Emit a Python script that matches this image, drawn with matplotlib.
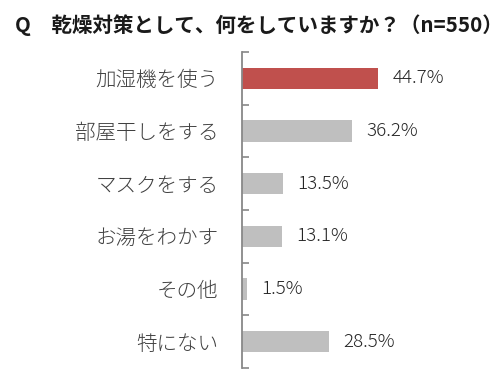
import matplotlib
matplotlib.use("Agg")
import matplotlib.pyplot as plt
import numpy as np

plt.rcParams['font.family'] = ['Noto Sans CJK JP', 'DejaVu Sans']

categories = ["加湿機を使う", "部屋干しをする", "マスクをする", "お湯をわかす", "その他", "特にない"]
values = [44.7, 36.2, 13.5, 13.1, 1.5, 28.5]
labels = ["44.7%", "36.2%", "13.5%", "13.1%", "1.5%", "28.5%"]
colors = ["#C0504D", "#BFBFBF", "#BFBFBF", "#BFBFBF", "#BFBFBF", "#BFBFBF"]
title = "Q\u3000乾燥対策として、何をしていますか？（n=550）"

W, H = 502, 380
fig = plt.figure(figsize=(W/100, H/100), dpi=100)
left_px, right_px, top_px, bot_px = 242, 486, 52, 368
ax = fig.add_axes([left_px/W, 1-bot_px/H, (right_px-left_px)/W, (bot_px-top_px)/H])

y = np.arange(len(categories))
ax.barh(y, values, height=0.4, color=colors)
ax.set_ylim(len(categories)-0.5, -0.5)
ax.set_xlim(0, (right_px-left_px)/3.04)

for yi, v, lab in zip(y, values, labels):
    ax.annotate(lab, (v, yi), xytext=(10.5, 0), textcoords='offset points',
                va='center', ha='left', fontsize=13.5, color='#262626', fontweight='light')

ax.set_yticks(y)
ax.set_yticklabels(categories, fontsize=14.8, color='#404040', fontweight='light')
ax.tick_params(axis='y', which='major', length=0, pad=17)
ax.set_yticks(np.arange(-0.5, len(categories)), minor=True)
ax.tick_params(axis='y', which='minor', direction='in', length=5, width=1.2, color='#888888')
ax.set_xticks([])
for s in ['top', 'right', 'bottom']:
    ax.spines[s].set_visible(False)
ax.spines['left'].set_color('#888888')
ax.spines['left'].set_linewidth(1.3)

fig.text(15/W, 1-25/H, title, fontsize=14.8, fontweight='bold', color='#1a1a1a',
         ha='left', va='center')

fig.savefig("out.png", dpi=100)
